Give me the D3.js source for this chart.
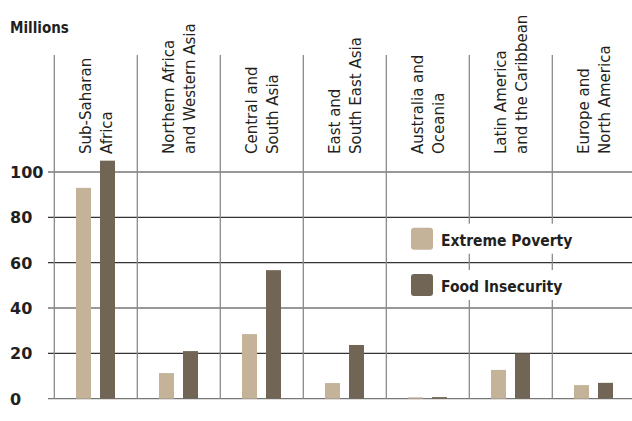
<!DOCTYPE html>
<html>
<head>
<meta charset="utf-8">
<script src="https://cdn.jsdelivr.net/npm/d3@7"></script>
<style>
  body { margin: 0; background: #fff; }
  text { fill: #231f20; }
</style>
</head>
<body>
<div class="chart"></div>
<script>
// regions, two lines each
const categories = [
  ['Sub-Saharan', 'Africa'],
  ['Northern Africa', 'and Western Asia'],
  ['Central and', 'South Asia'],
  ['East and', 'South East Asia'],
  ['Australia and', 'Oceania'],
  ['Latin America', 'and the Caribbean'],
  ['Europe and', 'North America']
];
const series = ['Extreme Poverty', 'Food Insecurity'];
const extremePoverty = [93, 11.3, 28.5, 6.9, 0.6, 12.7, 6];
const foodInsecurity = [105, 21, 56.7, 23.7, 0.7, 20, 7];
const yTicks = [0, 20, 40, 60, 80, 100];
const colors = ['#c4b399', '#716555'];

const width = 632;
const height = 421;

const svg = d3.select('.chart').append('svg')
    .attr('width', width)
    .attr('height', height);

const x = d3.scaleBand()
    .domain(d3.range(categories.length))
    .range([54.3, 54.3 + 83 * categories.length])
    .padding(0);

const x1 = d3.scaleBand()
    .domain(series)
    .range([21.7, 60.7])
    .paddingInner(0.375)
    .paddingOuter(0);

const y = d3.scaleLinear()
    .domain([0, 100])
    .range([398.7, 172]);

// horizontal grid
svg.append('g')
    .selectAll('line')
    .data(yTicks)
    .enter()
    .append('line')
    .attr('x1', 48)
    .attr('x2', width)
    .attr('y1', d => y(d))
    .attr('y2', d => y(d))
    .style('stroke', d => d === 0 ? '#777' : '#333')
    .style('stroke-width', 1.2);

// vertical separators
svg.append('g')
    .selectAll('line')
    .data(d3.range(categories.length))
    .enter()
    .append('line')
    .attr('x1', d => x(d))
    .attr('x2', d => x(d))
    .attr('y1', 55)
    .attr('y2', y(0))
    .style('stroke', '#8a8a8a')
    .style('stroke-width', 1.3);

// y tick labels
svg.append('g')
    .selectAll('text')
    .data(yTicks)
    .enter()
    .append('text')
    .attr('x', 10)
    .attr('y', d => y(d) + 6)
    .style('font-family', 'DejaVu Sans')
    .style('font-weight', 'bold')
    .style('font-size', '16px')
    .text(d => d);

svg.append('text')
    .attr('x', 10)
    .attr('y', 32.5)
    .style('font-family', 'DejaVu Sans Condensed, DejaVu Sans')
    .style('font-weight', 'bold')
    .style('font-size', '15px')
    .text('Millions');

// category labels, rotated
const labels = svg.append('g')
    .selectAll('text')
    .data(categories)
    .enter()
    .append('text')
    .attr('transform', (d, i) => 'translate(' + (x(i) + x.bandwidth() / 2) + ',154) rotate(-90)')
    .style('font-family', 'DejaVu Sans')
    .style('font-size', '15px')
    .attr('text-anchor', 'start');

labels.selectAll('tspan')
    .data(d => d)
    .enter()
    .append('tspan')
    .attr('x', 0)
    .attr('y', (d, i) => i === 0 ? -4.5 : 16.5)
    .text(d => d);

// bars
const rows = categories.map((c, i) => [extremePoverty[i], foodInsecurity[i]]);
const groups = svg.append('g')
    .selectAll('g')
    .data(rows)
    .enter()
    .append('g')
    .attr('transform', (d, i) => 'translate(' + x(i) + ',0)');

groups.selectAll('rect')
    .data(d => d.map((v, j) => ({ key: series[j], value: v, j: j })))
    .enter()
    .append('rect')
    .attr('x', d => x1(d.key))
    .attr('width', x1.bandwidth())
    .attr('y', d => y(d.value))
    .attr('height', d => y(0) - y(d.value))
    .style('fill', d => colors[d.j]);

// legend
const legend = svg.append('g')
    .selectAll('g')
    .data(series)
    .enter()
    .append('g')
    .attr('transform', (d, i) => 'translate(411,' + (227.7 + i * 46.3) + ')');

legend.append('rect')
    .attr('x', 26)
    .attr('y', -4)
    .attr('width', 136)
    .attr('height', 30)
    .style('fill', '#fff');

legend.append('rect')
    .attr('width', 22)
    .attr('height', 22)
    .attr('rx', 3)
    .style('fill', (d, i) => colors[i]);

legend.append('text')
    .attr('x', 30)
    .attr('y', 18)
    .style('font-family', 'DejaVu Sans Condensed, DejaVu Sans')
    .style('font-weight', 'bold')
    .style('font-size', '15.5px')
    .text(d => d);
</script>
</body>
</html>
